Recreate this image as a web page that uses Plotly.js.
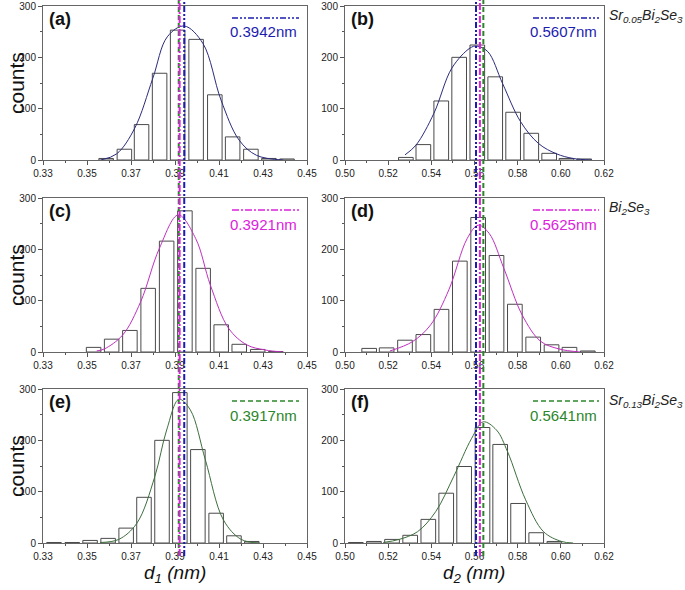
<!DOCTYPE html>
<html><head><meta charset="utf-8">
<script src="https://cdn.plot.ly/plotly-3.0.1.min.js"></script>
<style>html,body{margin:0;padding:0;background:#fff}</style>
</head><body><div id="chart" style="width:685px;height:590px"></div>
<script>
// ---- data ----
const binA = [0.3587,0.3670,0.3748,0.3830,0.3912,0.3996,0.4081,0.4162,0.4245,0.4327,0.4409];
const cntA = [3,21,69,169,253,235,127,45,21,3,2];
const fitXA = [0.3563,0.3635,0.3717,0.3799,0.3865,0.3942,0.4027,0.4109,0.4191,0.4271,0.4392];
const fitYA = [0,12,62,159,240,261,227,117,39,9,0];

const binB = [0.5282,0.5363,0.5446,0.5529,0.5613,0.5696,0.5779,0.5863,0.5946,0.6026,0.6108];
const cntB = [5,30,115,200,224,162,93,52,13,3,2];
const fitXB = [0.5278,0.5329,0.5412,0.5495,0.5579,0.5610,0.5662,0.5730,0.5813,0.5897,0.5980,0.6057,0.6140];
const fitYB = [10,29,91,179,218,222,211,149,75,32,12,3,0];

const binC = [0.3530,0.3612,0.3695,0.3778,0.3862,0.3945,0.4028,0.4110,0.4192,0.4276,0.4358];
const cntC = [9,25,42,124,216,275,163,53,15,5,1];
const fitXC = [0.3544,0.3579,0.3662,0.3744,0.3829,0.3915,0.3994,0.4061,0.4144,0.4226,0.4309,0.4392];
const fitYC = [2,6,33,98,202,267,221,130,46,14,4,0];

const binD = [0.5112,0.5193,0.5278,0.5363,0.5447,0.5532,0.5617,0.5702,0.5787,0.5872,0.5957,0.6040,0.6125];
const cntD = [7,8,23,34,83,177,262,188,93,29,14,9,2];
const fitXD = [0.5208,0.5312,0.5397,0.5481,0.5566,0.5617,0.5668,0.5736,0.5821,0.5906,0.5991,0.6090];
const fitYD = [2,20,53,121,221,247,231,163,72,21,6,0];

const binE = [0.3350,0.3433,0.3514,0.3596,0.3678,0.3759,0.3841,0.3922,0.4004,0.4087,0.4168,0.4249];
const cntE = [1,1,5,9,29,89,200,293,182,58,14,3];
const fitXE = [0.3559,0.3644,0.3726,0.3808,0.3862,0.3918,0.3970,0.4038,0.4120,0.4201,0.4283];
const fitYE = [1,7,38,129,220,280,259,162,45,7,0];

const binF = [0.5050,0.5134,0.5218,0.5302,0.5386,0.5469,0.5552,0.5637,0.5719,0.5802,0.5886,0.5970];
const cntF = [1,3,7,15,46,97,149,225,192,77,20,3];
const fitXF = [0.5177,0.5251,0.5336,0.5420,0.5503,0.5587,0.5640,0.5702,0.5753,0.5837,0.5920,0.6003,0.6057];
const fitYF = [1,7,22,61,129,204,236,220,178,84,22,3,0];

const meanD1 = [0.3942,0.3921,0.3917];   // Sr0.05, Bi2Se3, Sr0.13
const meanD2 = [0.5607,0.5625,0.5641];
const legendD1 = ['0.3942nm','0.3921nm','0.3917nm'];
const legendD2 = ['0.5607nm','0.5625nm','0.5641nm'];
const sampleNames = ['<i>Sr<sub>0.05</sub>Bi<sub>2</sub>Se<sub>3</sub></i>','<i>Bi<sub>2</sub>Se<sub>3</sub></i>','<i>Sr<sub>0.13</sub>Bi<sub>2</sub>Se<sub>3</sub></i>'];
const panelLabels = ['(a)','(b)','(c)','(d)','(e)','(f)'];
const leftTickVals = [0.33,0.35,0.37,0.39,0.41,0.43,0.45];
const leftTickText = ['0.33','0.35','0.37','0.39','0.41','0.43','0.45'];
const rightTickVals = [0.50,0.52,0.54,0.56,0.58,0.60,0.62];
const rightTickText = ['0.50','0.52','0.54','0.56','0.58','0.60','0.62'];
const yTickVals = [0,100,200,300];
const yTickText = ['0','100','200','300'];

// ---- styling ----
const FONT = 'Liberation Sans, Arial, sans-serif';
const W = 685, H = 590;
const seriesColor = ['#1c1cb0','#dc22dc','#2b862b'];
const fitColor = ['#2b2b7e','#c030c0','#3d6e3d'];
const dashes = ['6px,2px,2px,2px,2px,2px','7px,2px,2px,2px','5px,3px'];
const colX = [[43,307],[345,604]];
const rowY = [[6,160],[198,352],[389,543]];
const px = v => v / W, py = v => 1 - v / H;

const panels = [
  {bins:binA,cnt:cntA,fx:fitXA,fy:fitYA,row:0,col:0},
  {bins:binB,cnt:cntB,fx:fitXB,fy:fitYB,row:0,col:1},
  {bins:binC,cnt:cntC,fx:fitXC,fy:fitYC,row:1,col:0},
  {bins:binD,cnt:cntD,fx:fitXD,fy:fitYD,row:1,col:1},
  {bins:binE,cnt:cntE,fx:fitXE,fy:fitYE,row:2,col:0},
  {bins:binF,cnt:cntF,fx:fitXF,fy:fitYF,row:2,col:1}
];

const data = [], shapes = [], annotations = [];
const layout = {
  width: W, height: H, margin:{l:0,r:0,t:0,b:0},
  paper_bgcolor:'#fff', plot_bgcolor:'#fff', showlegend:false,
  font:{family:FONT, size:10, color:'#222'}
};

panels.forEach((p, i) => {
  const n = i + 1, sfx = n === 1 ? '' : String(n);
  const xa = 'x' + sfx, ya = 'y' + sfx;
  const left = p.col === 0;
  const [x0, x1] = colX[p.col], [yt, yb] = rowY[p.row];
  layout['xaxis' + sfx] = {
    domain:[px(x0), px(x1)], anchor: ya,
    range: left ? [0.33,0.45] : [0.50,0.62],
    tickmode:'array', tickvals: left ? leftTickVals : rightTickVals,
    ticktext: left ? leftTickText : rightTickText,
    ticks:'outside', ticklen:4, tickcolor:'#555',
    minor:{tickmode:'linear', tick0: left?0.33:0.50, dtick:0.01, ticks:'outside', ticklen:2, tickcolor:'#555'},
    showline:true, mirror:true, linecolor:'#666', linewidth:1,
    showgrid:false, zeroline:false, fixedrange:true,
    tickfont:{family:FONT, size:10, color:'#222'}
  };
  layout['yaxis' + sfx] = {
    domain:[py(yb), py(yt)], anchor: xa, range:[0,300],
    tickmode:'array', tickvals:yTickVals, ticktext:yTickText,
    ticks:'outside', ticklen:4, tickcolor:'#555',
    minor:{tickmode:'linear', tick0:0, dtick:50, ticks:'outside', ticklen:2, tickcolor:'#555'},
    showline:true, mirror:true, linecolor:'#666', linewidth:1,
    showgrid:false, zeroline:false, fixedrange:true,
    tickfont:{family:FONT, size:10, color:'#222'}
  };
  data.push({type:'bar', x:p.bins, y:p.cnt, xaxis:xa, yaxis:ya,
    width: left ? 0.0066 : 0.0068,
    marker:{color:'rgba(255,255,255,1)', line:{color:'#4a4a4a', width:1}}, hoverinfo:'skip'});
  data.push({type:'scatter', mode:'lines', x:p.fx, y:p.fy, xaxis:xa, yaxis:ya,
    line:{color:fitColor[p.row], width:1, shape:'spline', smoothing:1}, hoverinfo:'skip', cliponaxis:true});

  // panel label
  annotations.push({xref: xa + ' domain', yref: ya + ' domain', x: 0.015, y: 1 - 13/154,
    xanchor:'left', yanchor:'middle', showarrow:false,
    text:'<b>' + panelLabels[i] + '</b>', font:{family:FONT, size:18, color:'#111'}});
  // inner legend
  const lx0 = left ? (232-43)/264 : (533-345)/259;
  const lx1 = left ? (299-43)/264 : (599-345)/259;
  shapes.push({type:'line', xref: xa + ' domain', yref: ya + ' domain',
    x0: lx0, x1: lx1, y0: 1 - 12/154, y1: 1 - 12/154,
    line:{color:seriesColor[p.row], width:1.5, dash:dashes[p.row]}});
  annotations.push({xref: xa + ' domain', yref: ya + ' domain', x: lx1, y: 1 - 26/154,
    xanchor:'right', yanchor:'middle', showarrow:false,
    text: left ? legendD1[p.row] : legendD2[p.row],
    font:{family:FONT, size:15, color:seriesColor[p.row]}});
});

// vertical mean lines through each column
[0,1].forEach(col => {
  const means = col === 0 ? meanD1 : meanD2;
  const xa = col === 0 ? 'x' : 'x2';
  [2,1,0].forEach(k => {
    shapes.push({type:'line', xref: xa, yref:'paper', x0: means[k], x1: means[k],
      y0: py(556), y1: 1, line:{color:seriesColor[k], width:2, dash:dashes[k]}});
  });
});

// sample names on the right
[16, 208, 401].forEach((yy, r) => {
  annotations.push({xref:'paper', yref:'paper', x: px(607), y: py(yy), xanchor:'left', yanchor:'middle',
    showarrow:false, text: sampleNames[r], font:{family:FONT, size:14, color:'#222'}});
});
// counts labels
rowY.forEach(([t,b]) => {
  annotations.push({xref:'paper', yref:'paper', x: px(16), y: py((t+b)/2), xanchor:'center', yanchor:'middle',
    textangle:-90, showarrow:false, text:'counts', font:{family:FONT, size:21, color:'#111'}});
});
// x titles
annotations.push({xref:'paper', yref:'paper', x: px(175), y: py(574), xanchor:'center', yanchor:'middle',
  showarrow:false, text:'<i>d<sub>1</sub> (nm)</i>', font:{family:FONT, size:19, color:'#111'}});
annotations.push({xref:'paper', yref:'paper', x: px(474), y: py(574), xanchor:'center', yanchor:'middle',
  showarrow:false, text:'<i>d<sub>2</sub> (nm)</i>', font:{family:FONT, size:19, color:'#111'}});

layout.shapes = shapes;
layout.annotations = annotations;
Plotly.newPlot('chart', data, layout, {staticPlot:true, displayModeBar:false});
</script></body></html>
